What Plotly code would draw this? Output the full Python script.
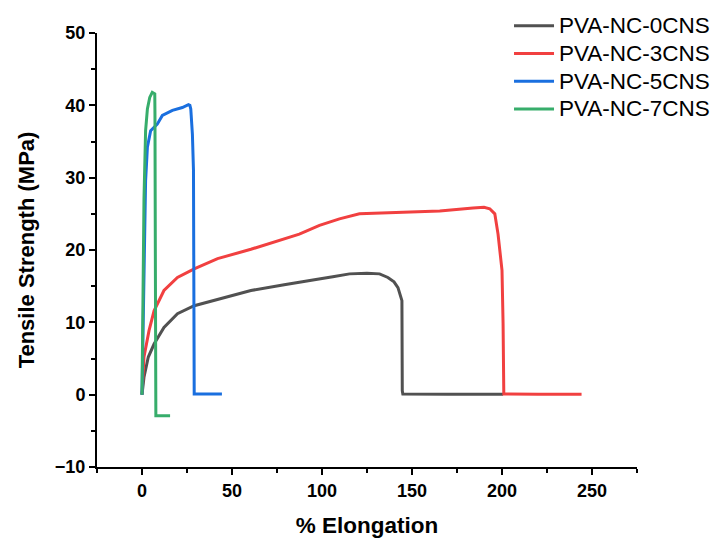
import plotly.graph_objects as go

names = ["PVA-NC-0CNS", "PVA-NC-3CNS", "PVA-NC-5CNS", "PVA-NC-7CNS"]
colors = ["#515151", "#F14040", "#1A6FDF", "#37AD6B"]

x0 = [0, 1.1, 3.5, 6.7, 12.2, 19.7, 29, 42, 60.5, 79, 87.4, 95.8, 106, 115.3, 125, 132, 136.6, 140, 142.2, 144.4, 144.6, 144.9, 170, 200.6]
y0 = [0, 2.4, 5.2, 7.0, 9.3, 11.2, 12.3, 13.2, 14.4, 15.2, 15.5, 15.9, 16.3, 16.7, 16.8, 16.7, 16.2, 15.6, 14.8, 13.0, 0.55, 0.1, 0.05, 0.05]

x3 = [0, 1.1, 3.9, 6.7, 12.2, 19.7, 29, 42, 60.5, 79, 87.4, 98.6, 109.7, 120.8, 143, 165.4, 183.9, 190, 193.2, 196, 197.8, 200, 200.6, 201, 220, 244.2]
y3 = [0, 5.2, 8.85, 11.6, 14.4, 16.2, 17.4, 18.8, 20.1, 21.5, 22.2, 23.4, 24.3, 25.0, 25.2, 25.4, 25.8, 25.9, 25.7, 25.0, 22.2, 17.2, 9.8, 0.1, 0.05, 0.05]

x5 = [0, 1.1, 2.0, 3.0, 4.8, 8.5, 11.3, 16.9, 22.4, 25.8, 26.6, 27.1, 28.0, 28.6, 29.0, 35, 44.4]
y5 = [0, 15.8, 29.6, 34.2, 36.5, 37.4, 38.6, 39.3, 39.7, 40.1, 40.0, 39.5, 36.0, 31.0, 0.1, 0.1, 0.1]

x7 = [0, 0.6, 1.1, 2.0, 3.0, 4.3, 5.7, 7.1, 7.2, 7.4, 7.6, 7.7, 12, 15.6]
y7 = [0, 14.0, 27.0, 36.5, 39.5, 41.1, 41.8, 41.6, 38.8, 20.4, 0.0, -2.9, -2.9, -2.9]

xs = [x0, x3, x5, x7]
ys = [y0, y3, y5, y7]

x_ticks = [0, 50, 100, 150, 200, 250]
y_ticks = [-10, 0, 10, 20, 30, 40, 50]

FONT = "Arial, Liberation Sans, sans-serif"

fig = go.Figure()
for n, c, xv, yv in zip(names, colors, xs, ys):
    fig.add_trace(go.Scatter(x=xv, y=yv, mode="lines",
                             name='<span style="font-size:22.5px">' + n + '</span>',
                             line=dict(color=c, width=3)))

axis_common = dict(
    showline=True, linecolor="black", linewidth=2,
    ticks="outside", ticklen=6, tickwidth=2, tickcolor="black",
    showgrid=False, zeroline=False,
    tickfont=dict(family=FONT, size=18, color="black", weight="bold"),
    minor=dict(ticks="outside", ticklen=4, tickwidth=2, tickcolor="black", showgrid=False),
)

fig.update_xaxes(range=[-25, 275], tickvals=x_ticks, minor_dtick=25, minor_tick0=0,
                 title=dict(text="% Elongation", font=dict(family=FONT, size=22.5, color="black", weight="bold"), standoff=18),
                 **axis_common)
fig.update_yaxes(range=[-10, 50], tickvals=y_ticks, minor_dtick=5, minor_tick0=0,
                 title=dict(text="Tensile Strength (MPa)", font=dict(family=FONT, size=22, color="black", weight="bold"), standoff=14),
                 **axis_common)

fig.update_layout(
    width=715, height=539,
    margin=dict(l=97, r=78, t=33, b=72, autoexpand=False),
    plot_bgcolor="white", paper_bgcolor="white",
    font=dict(family=FONT, color="black"),
    legend=dict(x=0.763, y=1.060, xanchor="left", yanchor="top",
                font=dict(family=FONT, size=19, color="black"),
                bgcolor="rgba(0,0,0,0)", itemwidth=40),
)

fig.write_html("out.html")
